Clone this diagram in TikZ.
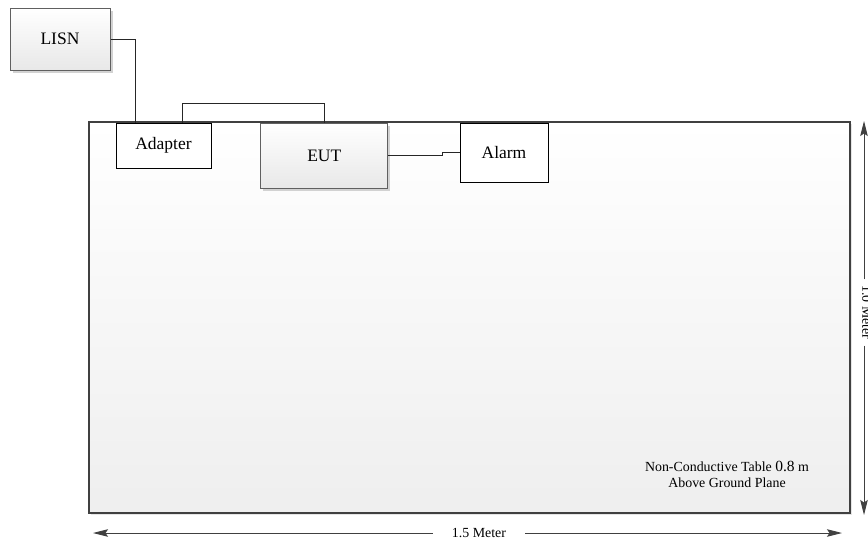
\documentclass[tikz,border=0pt]{standalone}
\usepackage{fontspec}
\setmainfont{Liberation Serif}
\usetikzlibrary{arrows.meta,shadows}
\definecolor{edge}{HTML}{404040}
\begin{document}
\begin{tikzpicture}[x=1pt,y=-1pt,
  lbl/.style={font=\fontsize{17.5}{20}\selectfont},
  whitebox/.style={draw=black, line width=1pt, fill=white, inner sep=0pt, lbl},
  greybox/.style={draw=gray!75!black, line width=1pt, top color=white, bottom color=gray!18,
     inner sep=0pt, lbl, drop shadow={shadow xshift=2.5pt, shadow yshift=-2.5pt, fill=gray!35, opacity=1}},
  tablebox/.style={draw=edge, line width=2.5pt, top color=white, bottom color=gray!13, inner sep=0pt,
     drop shadow={shadow xshift=2pt, shadow yshift=-2pt, fill=gray!20, opacity=1}},
  wire/.style={draw=black!85, line width=0.9pt},
  dimline/.style={draw=edge, line width=0.9pt},
  dimtip/.style={dimline, -{Stealth[length=15pt, width=7.5pt, inset=2.5pt]}},
  small/.style={font=\fontsize{13.9}{16}\selectfont, align=center}
]
\useasboundingbox (0,0) rectangle (868,544);

% table
\node[tablebox, minimum width=761pt, minimum height=391pt] (table) at (469.5,317.5) {};
\node[small] (tabtext) at (727,474) {Non-Conductive Table {\fontsize{15.5}{16}\selectfont 0.8} m\\Above Ground Plane};

% boxes
\node[greybox, minimum width=100pt, minimum height=62pt] (lisn) at (60,39) {LISN};
\node[whitebox, minimum width=95pt, minimum height=45pt] (adapter) at (163.5,145.5) {Adapter};
\node[greybox, minimum width=127pt, minimum height=65pt] (eut) at (324.3,155.5) {EUT};
\node[whitebox, minimum width=88pt, minimum height=59pt] (alarm) at (504,152.5) {Alarm};

% connectors
\coordinate (c1) at (135,0);
\draw[wire] (lisn.east) -| (c1 |- adapter.north);
\coordinate (c2) at (182.5,103);
\draw[wire] (c2 |- adapter.north) -- (c2) -- (eut.north |- c2) -- (eut.north);
\coordinate (k) at (442,0);
\draw[wire] (eut.east) -- (k |- eut.east) -- (k |- alarm.west) -- (alarm.west);

% horizontal dimension
\coordinate (hl) at (93,533);
\coordinate (hr) at (842,533);
\node[small, inner xsep=19pt, inner ysep=0pt] (hlab) at (479,533) {1.5 Meter};
\draw[dimtip] (hlab.west) -- (hl);
\draw[dimtip] (hlab.east) -- (hr);

% vertical dimension
\coordinate (vt) at (864,121);
\coordinate (vb) at (864,515);
\node[small, rotate=-90, inner xsep=6pt, inner ysep=0pt] (vlab) at (867,312.5) {1.0 Meter};
\draw[dimtip] (vlab.west -| vt) -- (vt);
\draw[dimtip] (vlab.east -| vb) -- (vb);
\end{tikzpicture}
\end{document}
